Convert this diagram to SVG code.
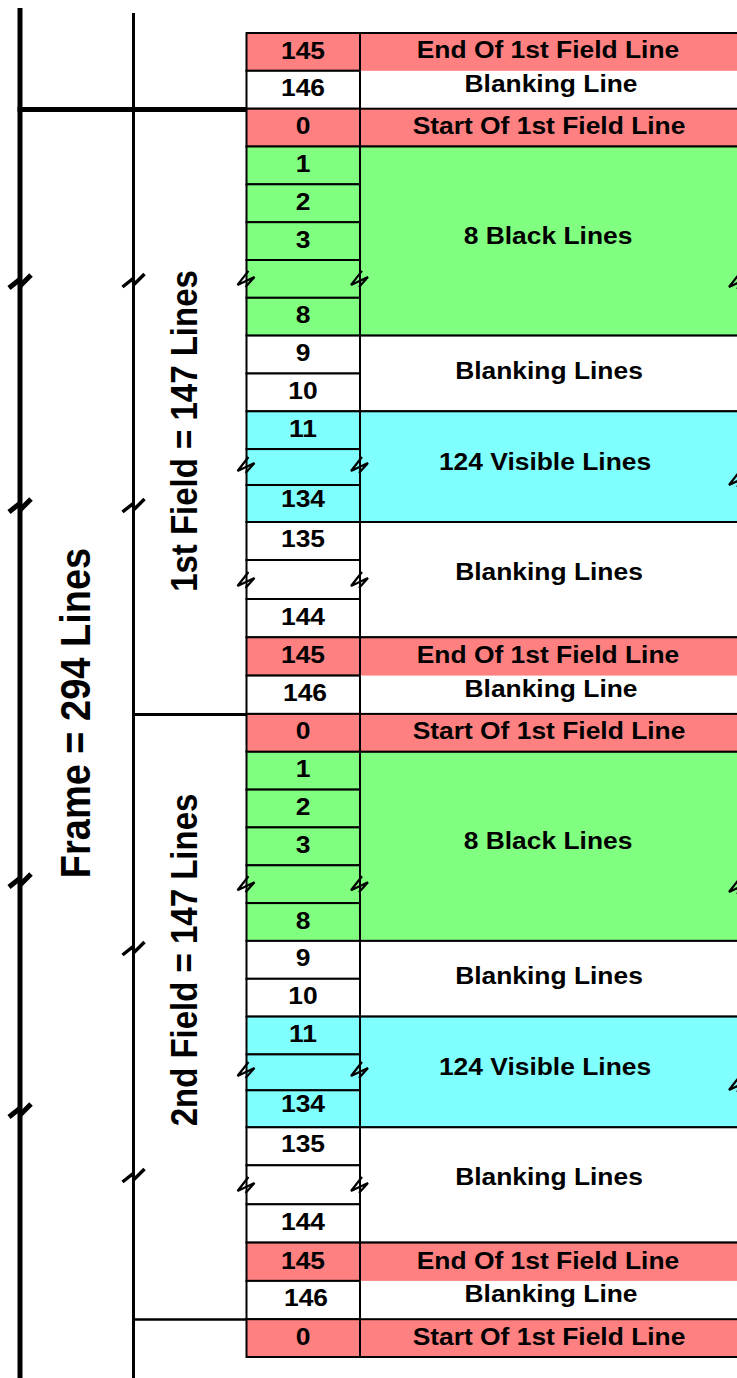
<svg xmlns="http://www.w3.org/2000/svg" width="737" height="1378" viewBox="0 0 737 1378">
<style>
.r{fill:#FF8080}.g{fill:#80FF80}.c{fill:#80FFFF}.w{fill:#FFFFFF}
.b{stroke:#000;stroke-width:2}
.ln{stroke:#000;stroke-width:2;fill:none}
.t{font-family:"Liberation Sans",Arial,sans-serif;font-weight:bold;font-size:24px;text-anchor:middle;fill:#000}
.big{font-family:"Liberation Sans",Arial,sans-serif;font-weight:bold;text-anchor:middle;fill:#000}
.brk{fill:none;stroke:#000;stroke-width:2.2;stroke-linejoin:miter}
.abrk{fill:none;stroke:#000;stroke-linejoin:miter}
</style>
<defs>
<path id="tb" d="M2,-8 L-9,6 L8,-2 L-1,8"/>
<path id="ab" d="M-11,7 L-1,-1 L1,4 L11,-6"/>
</defs>
<rect width="737" height="1378" fill="#fff"/>

<!-- left column cells -->
<g id="cells-left" class="b">
<rect id="n145a" class="r" x="246.5" y="33" width="113.5" height="37.8"/>
<rect id="n146a" class="w" x="246.5" y="70.8" width="113.5" height="37.9"/>
<rect id="f1-0" class="r" x="246.5" y="108.7" width="113.5" height="37.8"/>
<rect id="f1-1" class="g" x="246.5" y="146.5" width="113.5" height="37.8"/>
<rect id="f1-2" class="g" x="246.5" y="184.3" width="113.5" height="37.9"/>
<rect id="f1-3" class="g" x="246.5" y="222.2" width="113.5" height="37.8"/>
<rect id="f1-b1" class="g" x="246.5" y="260" width="113.5" height="37.8"/>
<rect id="f1-8" class="g" x="246.5" y="297.8" width="113.5" height="37.8"/>
<rect id="f1-9" class="w" x="246.5" y="335.6" width="113.5" height="37.9"/>
<rect id="f1-10" class="w" x="246.5" y="373.5" width="113.5" height="37.8"/>
<rect id="f1-11" class="c" x="246.5" y="411.3" width="113.5" height="37.8"/>
<rect id="f1-b2" class="c" x="246.5" y="449.1" width="113.5" height="35.9"/>
<rect id="f1-134" class="c" x="246.5" y="485" width="113.5" height="37"/>
<rect id="f1-135" class="w" x="246.5" y="522" width="113.5" height="38"/>
<rect id="f1-b3" class="w" x="246.5" y="560" width="113.5" height="39"/>
<rect id="f1-144" class="w" x="246.5" y="599" width="113.5" height="38.3"/>
<rect id="f1-145" class="r" x="246.5" y="637.3" width="113.5" height="38.3"/>
<rect id="f1-146" class="w" x="246.5" y="675.6" width="113.5" height="38.3"/>
<rect id="f2-0" class="r" x="246.5" y="713.9" width="113.5" height="37.9"/>
<rect id="f2-1" class="g" x="246.5" y="751.8" width="113.5" height="37.8"/>
<rect id="f2-2" class="g" x="246.5" y="789.6" width="113.5" height="37.8"/>
<rect id="f2-3" class="g" x="246.5" y="827.4" width="113.5" height="37.9"/>
<rect id="f2-b1" class="g" x="246.5" y="865.3" width="113.5" height="37.8"/>
<rect id="f2-8" class="g" x="246.5" y="903.1" width="113.5" height="37.8"/>
<rect id="f2-9" class="w" x="246.5" y="940.9" width="113.5" height="37.9"/>
<rect id="f2-10" class="w" x="246.5" y="978.8" width="113.5" height="37.8"/>
<rect id="f2-11" class="c" x="246.5" y="1016.6" width="113.5" height="37.8"/>
<rect id="f2-b2" class="c" x="246.5" y="1054.4" width="113.5" height="35.9"/>
<rect id="f2-134" class="c" x="246.5" y="1090.3" width="113.5" height="37"/>
<rect id="f2-135" class="w" x="246.5" y="1127.3" width="113.5" height="38"/>
<rect id="f2-b3" class="w" x="246.5" y="1165.3" width="113.5" height="39"/>
<rect id="f2-144" class="w" x="246.5" y="1204.3" width="113.5" height="38.3"/>
<rect id="f2-145" class="r" x="246.5" y="1242.6" width="113.5" height="38.3"/>
<rect id="f2-146" class="w" x="246.5" y="1280.9" width="113.5" height="38.3"/>
<rect id="n0c" class="r" x="246.5" y="1319.2" width="113.5" height="37.8"/>
</g>

<!-- right column cells -->
<g id="cells-right" class="b">
<rect id="endA" class="r" x="360" y="33" width="378" height="75.7"/>
<rect id="blankA" class="w" x="360" y="70.8" width="378" height="37.9" stroke="none"/>
<rect id="start1" class="r" x="360" y="108.7" width="378" height="37.8"/>
<rect id="black1" class="g" x="360" y="146.5" width="378" height="189.1"/>
<rect id="blank1a" class="w" x="360" y="335.6" width="378" height="75.7"/>
<rect id="vis1" class="c" x="360" y="411.3" width="378" height="110.7"/>
<rect id="blank1b" class="w" x="360" y="522" width="378" height="115.3"/>
<rect id="end1" class="r" x="360" y="637.3" width="378" height="76.6"/>
<rect id="blank1c" class="w" x="360" y="675.6" width="378" height="38.3" stroke="none"/>
<rect id="start2" class="r" x="360" y="713.9" width="378" height="37.9"/>
<rect id="black2" class="g" x="360" y="751.8" width="378" height="189.1"/>
<rect id="blank2a" class="w" x="360" y="940.9" width="378" height="75.7"/>
<rect id="vis2" class="c" x="360" y="1016.6" width="378" height="110.7"/>
<rect id="blank2b" class="w" x="360" y="1127.3" width="378" height="115.3"/>
<rect id="end2" class="r" x="360" y="1242.6" width="378" height="76.6"/>
<rect id="blank2c" class="w" x="360" y="1280.9" width="378" height="38.3" stroke="none"/>
<rect id="start3" class="r" x="360" y="1319.2" width="378" height="37.8"/>
</g>
<g id="right-edges" class="ln">
<line x1="360" y1="70.8" x2="360" y2="108.7"/>
<line x1="360" y1="675.6" x2="360" y2="713.9"/>
<line x1="360" y1="1280.9" x2="360" y2="1319.2"/>
</g>

<!-- connectors / axis lines -->
<g id="connectors">
<line x1="20" y1="8" x2="20" y2="1378" stroke="#000" stroke-width="5"/>
<line x1="133.5" y1="13" x2="133.5" y2="1378" stroke="#000" stroke-width="3"/>
<line x1="17.5" y1="109.5" x2="247" y2="109.5" stroke="#000" stroke-width="5"/>
<line x1="133.5" y1="714.5" x2="247" y2="714.5" stroke="#000" stroke-width="3"/>
<line x1="133.5" y1="1319.5" x2="247" y2="1319.5" stroke="#000" stroke-width="2.5"/>
</g>

<!-- break marks -->
<g id="breaks" class="brk">
<use href="#tb" x="246.5" y="278.9"/><use href="#tb" x="360" y="278.9"/><use href="#tb" x="738" y="281"/>
<use href="#tb" x="246.5" y="465"/><use href="#tb" x="360" y="465"/><use href="#tb" x="738" y="479"/>
<use href="#tb" x="246.5" y="580"/><use href="#tb" x="360" y="580"/>
<use href="#tb" x="246.5" y="884.2"/><use href="#tb" x="360" y="884.2"/><use href="#tb" x="738" y="886"/>
<use href="#tb" x="246.5" y="1070"/><use href="#tb" x="360" y="1070"/><use href="#tb" x="738" y="1084"/>
<use href="#tb" x="246.5" y="1185"/><use href="#tb" x="360" y="1185"/>
</g>
<g id="axis-breaks" class="abrk">
<use href="#ab" x="20" y="281" stroke-width="5"/>
<use href="#ab" x="20" y="505" stroke-width="5"/>
<use href="#ab" x="20" y="880" stroke-width="5"/>
<use href="#ab" x="20" y="1110" stroke-width="5"/>
<use href="#ab" x="133.5" y="280" stroke-width="3.5"/>
<use href="#ab" x="133.5" y="505" stroke-width="3.5"/>
<use href="#ab" x="133.5" y="948" stroke-width="3.5"/>
<use href="#ab" x="133.5" y="1175" stroke-width="3.5"/>
</g>

<!-- labels -->
<g id="labels-left" class="t">
<text transform="translate(303,58.5) scale(1.1,1)">145</text>
<text transform="translate(303,96.3) scale(1.1,1)">146</text>
<text transform="translate(303,134.2) scale(1.1,1)">0</text>
<text transform="translate(303,172) scale(1.1,1)">1</text>
<text transform="translate(303,209.8) scale(1.1,1)">2</text>
<text transform="translate(303,247.7) scale(1.1,1)">3</text>
<text transform="translate(303,323.3) scale(1.1,1)">8</text>
<text transform="translate(303,361.1) scale(1.1,1)">9</text>
<text transform="translate(303,399) scale(1.1,1)">10</text>
<text transform="translate(303,436.8) scale(1.1,1)">11</text>
<text transform="translate(303,506.5) scale(1.1,1)">134</text>
<text transform="translate(303,546.5) scale(1.1,1)">135</text>
<text transform="translate(303,624.5) scale(1.1,1)">144</text>
<text transform="translate(303,663.3) scale(1.1,1)">145</text>
<text transform="translate(305,700.5) scale(1.1,1)">146</text>
<text transform="translate(303,739.4) scale(1.1,1)">0</text>
<text transform="translate(303,777.3) scale(1.1,1)">1</text>
<text transform="translate(303,815.1) scale(1.1,1)">2</text>
<text transform="translate(303,852.9) scale(1.1,1)">3</text>
<text transform="translate(303,928.6) scale(1.1,1)">8</text>
<text transform="translate(303,966.4) scale(1.1,1)">9</text>
<text transform="translate(303,1004.3) scale(1.1,1)">10</text>
<text transform="translate(303,1042.1) scale(1.1,1)">11</text>
<text transform="translate(303,1111.8) scale(1.1,1)">134</text>
<text transform="translate(303,1151.8) scale(1.1,1)">135</text>
<text transform="translate(303,1229.8) scale(1.1,1)">144</text>
<text transform="translate(303,1268.6) scale(1.1,1)">145</text>
<text transform="translate(306,1305.8) scale(1.1,1)">146</text>
<text transform="translate(303,1344.7) scale(1.1,1)">0</text>
</g>
<g id="labels-right" class="t">
<text transform="translate(548,58) scale(1.1,1)">End Of 1st Field Line</text>
<text transform="translate(551,92) scale(1.1,1)">Blanking Line</text>
<text transform="translate(549,134) scale(1.1,1)">Start Of 1st Field Line</text>
<text transform="translate(548,244) scale(1.1,1)">8 Black Lines</text>
<text transform="translate(549,379) scale(1.1,1)">Blanking Lines</text>
<text transform="translate(545,470) scale(1.1,1)">124 Visible Lines</text>
<text transform="translate(549,580) scale(1.1,1)">Blanking Lines</text>
<text transform="translate(548,663.3) scale(1.1,1)">End Of 1st Field Line</text>
<text transform="translate(551,697) scale(1.1,1)">Blanking Line</text>
<text transform="translate(549,739.3) scale(1.1,1)">Start Of 1st Field Line</text>
<text transform="translate(548,849.3) scale(1.1,1)">8 Black Lines</text>
<text transform="translate(549,984.3) scale(1.1,1)">Blanking Lines</text>
<text transform="translate(545,1075.3) scale(1.1,1)">124 Visible Lines</text>
<text transform="translate(549,1185.3) scale(1.1,1)">Blanking Lines</text>
<text transform="translate(548,1268.6) scale(1.1,1)">End Of 1st Field Line</text>
<text transform="translate(551,1302.4) scale(1.1,1)">Blanking Line</text>
<text transform="translate(549,1344.5) scale(1.1,1)">Start Of 1st Field Line</text>
</g>
<g id="axis-labels" class="big">
<text id="frame-label" transform="translate(90,713) scale(1.12,1) rotate(-90)" font-size="38">Frame = 294 Lines</text>
<text id="field1-label" transform="translate(197,431) scale(1.1,1) rotate(-90)" font-size="33">1st Field = 147 Lines</text>
<text id="field2-label" transform="translate(197,960) scale(1.1,1) rotate(-90)" font-size="33">2nd Field = 147 Lines</text>
</g>
</svg>
